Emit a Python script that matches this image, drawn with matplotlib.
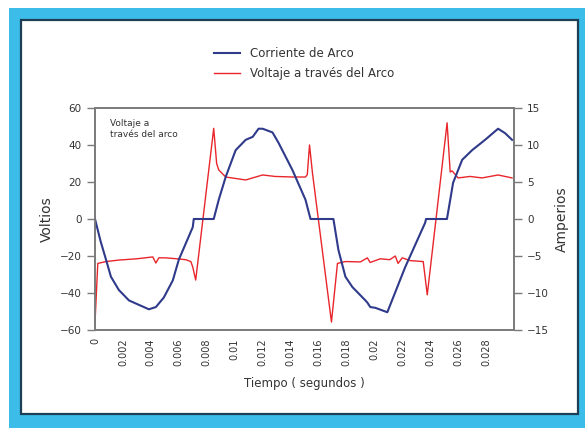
# arc voltage / arc current chart

import matplotlib
matplotlib.use('Agg')
import matplotlib.pyplot as plt
from matplotlib.patches import Rectangle

# current of the arc (amperes), time in ms
t_corriente = [0, 0.4, 0.79, 1.14, 1.71, 2.43, 3.14, 3.86, 4.36, 4.93, 5.57, 6.0, 7.0,
               7.07, 8.5, 8.86, 9.36, 10.07, 10.79, 11.29, 11.71, 12.0, 12.71, 13.14,
               14.14, 15.07, 15.43, 17.07, 17.43, 17.93, 18.43, 19.36, 19.5, 19.71,
               20.07, 20.93, 22.21, 23.64, 23.7, 25.2, 25.64, 26.29, 27.0, 27.93,
               28.86, 29.36, 29.86]
corriente = [0, -3.0, -5.5, -7.8, -9.6, -11.0, -11.6, -12.2, -11.9, -10.6, -8.3, -5.5, -1.1,
             0, 0, 2.6, 5.7, 9.3, 10.7, 11.1, 12.2, 12.2, 11.7, 10.3,
             6.6, 2.6, 0, 0, -4.2, -7.8, -9.2, -11.0, -11.3, -11.9,
             -12.0, -12.6, -6.5, -0.5, 0, 0, 4.9, 8.0, 9.3, 10.7,
             12.2, 11.6, 10.7]

# voltage across the arc (volts), time in ms
t_voltaje = [0, 0.2, 0.8, 1.71, 3.0, 4.14, 4.36, 4.57, 5.07, 6.0, 6.5, 6.86, 7.0, 7.21,
             8.5, 8.71, 8.86, 9.36, 10.79, 12.0, 12.9, 14.14, 15.07, 15.2, 15.36,
             15.57, 16.93, 17.36, 17.93, 19.0, 19.5, 19.7, 20.43, 21.1, 21.5, 21.7,
             22.0, 22.57, 23.5, 23.79, 25.21, 25.43, 25.57, 26.0, 26.86, 27.71,
             28.86, 29.86]
voltaje = [-56, -24, -23, -22.2, -21.5, -20.5, -23.8, -21, -21, -21.6, -22, -23, -26, -33,
           49, 30, 26.5, 22.7, 21.1, 23.8, 23, 22.7, 22.7, 24, 40,
           24.9, -55.7, -24, -23, -23.2, -21, -23.5, -21.5, -22, -20, -24,
           -21, -22.5, -23, -41, 52, 25.4, 26, 22.2, 23, 22.2,
           23.8, 22.2]

xticks = [0, 0.002, 0.004, 0.006, 0.008, 0.01, 0.012, 0.014, 0.016, 0.018,
          0.02, 0.022, 0.024, 0.026, 0.028]

fig = plt.figure(figsize=(5.85, 4.28), dpi=100)
fig.patch.set_facecolor('white')

# cyan frame and white panel with dark border
fig.patches.append(Rectangle((9 / 585, 0), 1, 420 / 428, transform=fig.transFigure,
                             facecolor='#3cbde9', edgecolor='none', zorder=-3))
fig.patches.append(Rectangle((21 / 585, 1 - 414 / 428), 557 / 585, 394 / 428,
                             transform=fig.transFigure, facecolor='white',
                             edgecolor='#1d3f55', linewidth=1.6, zorder=-2))

ax = fig.add_axes([95 / 585, 1 - 330 / 428, 419 / 585, 222 / 428])
ax.set_facecolor('none')
ax2 = ax.twinx()

gris = '#7a7a7a'
texto = '#333333'

lv, = ax.plot([t / 1000 for t in t_voltaje], voltaje, color='#e8262b', lw=1.0)
lc, = ax2.plot([t / 1000 for t in t_corriente], corriente, color='#2f3a8a', lw=1.5)

ax.set_xlim(0, 0.03)
ax.set_ylim(-60, 60)
ax2.set_ylim(-15, 15)
ax.set_yticks(range(-60, 61, 20))
ax2.set_yticks(range(-15, 16, 5))
ax.set_xticks(xticks)
ax.set_xticklabels(['%g' % v for v in xticks], rotation=90)

for a in (ax, ax2):
    for s in a.spines.values():
        s.set_color(gris)
        s.set_linewidth(1.2)
    a.tick_params(axis='y', colors=gris, labelcolor=texto, labelsize=7.5,
                  length=6, width=1)
ax.tick_params(axis='x', length=0, labelsize=7, labelcolor=texto, pad=6)

ax.set_ylabel('Voltios', fontsize=10, color=texto, labelpad=4)
ax2.set_ylabel('Amperios', fontsize=10, color=texto, labelpad=4)
ax.set_xlabel('Tiempo ( segundos )', fontsize=8.5, color=texto, labelpad=8)

ax.text(0.035, 0.95, 'Voltaje a\ntravés del arco', transform=ax.transAxes,
        fontsize=6.5, color=texto, va='top', ha='left', linespacing=1.3)

fig.legend([lc, lv], ['Corriente de Arco', 'Voltaje a través del Arco'],
           loc='upper center', bbox_to_anchor=(0.52, 0.915), frameon=False,
           fontsize=8.5, handlelength=2.2, labelspacing=0.6, labelcolor=texto)

fig.savefig('out.png', dpi=100)
